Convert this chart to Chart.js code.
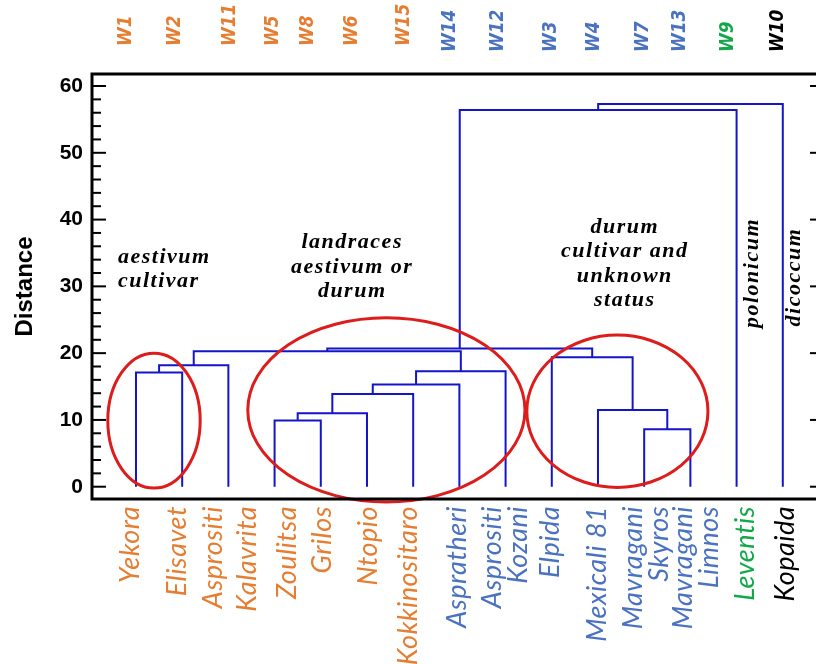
<!DOCTYPE html>
<html>
<head>
<meta charset="utf-8">
<script src="https://cdn.jsdelivr.net/npm/chart.js@4/dist/chart.umd.min.js"></script>
<style>
  html, body { margin: 0; padding: 0; background: #fff; overflow: hidden; }
  #wrap { width: 816px; height: 664px; }
</style>
</head>
<body>
<div id="wrap"><canvas id="dendro" width="816" height="664"></canvas></div>
<script>
// Accession codes of the leaves, left to right
const leafCodes = ['W1', 'W2', 'W11', 'W5', 'W8', 'W6', 'W15', 'W14', 'W12', 'W3', 'W4', 'W7', 'W13', 'W9', 'W10'];
const leafGroup = [0, 0, 0, 0, 0, 0, 0, 1, 1, 1, 1, 1, 1, 2, 3];

// Agglomeration steps: nodes 0-14 are leaves, step k creates node 15 + k
const mergeA    = [0, 15, 3, 17, 18, 19, 20, 16, 11, 10, 9, 22, 26, 27];
const mergeB    = [1, 2, 4, 5, 6, 7, 8, 21, 12, 23, 24, 25, 13, 14];
const mergeDist = [17.1, 18.2, 9.9, 11.0, 13.9, 15.3, 17.3, 20.3, 8.6, 11.5, 19.4, 20.7, 56.4, 57.3];

// Variety names printed under the tree
const varietyNames = ['Yekora', 'Elisavet', 'Asprositi', 'Kalavrita', 'Zoulitsa', 'Grilos', 'Ntopio',
  'Kokkinositaro', 'Aspratheri', ['Asprositi', 'Kozani'], 'Elpida', 'Mexicali 81',
  ['Mavragani', 'Skyros'], ['Mavragani', 'Limnos'], 'Leventis', 'Kopaida'];
const varietyGroup = [0, 0, 0, 0, 0, 0, 0, 0, 1, 1, 1, 1, 1, 1, 2, 3];

// Axis ticks
const distanceTicks = [0, 10, 20, 30, 40, 50, 60];

// Group captions
const captionLines = [['aestivum', 'cultivar'], ['landraces', 'aestivum or', 'durum'], ['durum', 'cultivar and', 'unknown', 'status']];
const sideCaptions = ['polonicum', 'dicoccum'];

// ---- layout & style (axis units along x, distance units along y) ----
const groupColors = ['#e57d32', '#4a72c0', '#12a84a', '#000000'];
const treeColor = '#1414c8';
const codePos = [-0.22, 0.84, 2.03, 2.96, 3.72, 4.67, 5.80, 6.80, 7.84, 8.98, 9.90, 10.98, 11.77, 12.80, 13.90];
const varietyPos = [-0.13, 0.89, 1.67, 2.40, 3.27, 4.03, 5.02, 5.89, 6.95, 8.0, 8.96, 9.98, 11.04, 12.12, 13.18, 14.05];
const captionAnchor = [{x: -0.39, y: 33.5, align: 'left'}, {x: 4.68, y: 35.7, align: 'center'}, {x: 10.58, y: 38.0, align: 'center'}];
const sideAnchor = [{x: 13.33, y: 32.0}, {x: 14.26, y: 31.4}];
const rings = [{x: 0.39, y: 9.9, rx: 1.0, ry: 10.1}, {x: 5.42, y: 11.5, rx: 3.0, ry: 13.8}, {x: 10.42, y: 11.3, rx: 1.96, ry: 11.4}];

// Node positions: leaves sit at their index, merged nodes at the mean of their children
const nodeX = leafCodes.map((_, i) => i);
const nodeH = leafCodes.map(() => 0);
const linkSets = mergeDist.map((h, k) => {
  const a = mergeA[k], b = mergeB[k];
  const xa = nodeX[a], xb = nodeX[b];
  const data = [{x: xa, y: nodeH[a]}, {x: xa, y: h}, {x: xb, y: h}, {x: xb, y: nodeH[b]}];
  nodeX.push((xa + xb) / 2);
  nodeH.push(h);
  return {
    data, showLine: true, borderColor: treeColor, borderWidth: 2,
    pointRadius: 0, tension: 0, fill: false
  };
});

const decorations = {
  id: 'decorations',
  afterDatasetsDraw(chart) {
    const {ctx, scales: {x, y}} = chart;
    ctx.save();
    // red rings around the clusters
    ctx.strokeStyle = '#dd1c1c';
    ctx.lineWidth = 3;
    rings.forEach(r => {
      const cx = x.getPixelForValue(r.x), cy = y.getPixelForValue(r.y);
      const rx = x.getPixelForValue(r.x + r.rx) - cx, ry = cy - y.getPixelForValue(r.y + r.ry);
      ctx.beginPath();
      ctx.ellipse(cx, cy, rx, ry, 0, 0, Math.PI * 2);
      ctx.stroke();
    });
    // captions
    ctx.fillStyle = '#000';
    ctx.font = 'bold italic 22px "Liberation Serif"';
    ctx.letterSpacing = '1.5px';
    ctx.textBaseline = 'alphabetic';
    captionLines.forEach((lines, i) => {
      const p = captionAnchor[i];
      ctx.textAlign = p.align;
      const px = x.getPixelForValue(p.x), py = y.getPixelForValue(p.y);
      lines.forEach((t, j) => ctx.fillText(t, px, py + j * 24.5));
    });
    ctx.textAlign = 'center';
    ctx.textBaseline = 'middle';
    sideCaptions.forEach((t, i) => {
      const p = sideAnchor[i];
      ctx.save();
      ctx.translate(x.getPixelForValue(p.x), y.getPixelForValue(p.y));
      ctx.rotate(-Math.PI / 2);
      ctx.fillText(t, 0, 0);
      ctx.restore();
    });
    ctx.restore();
  },
  afterDraw(chart) {
    const {ctx, chartArea: a, scales: {x, y}} = chart;
    ctx.save();
    // frame
    ctx.strokeStyle = '#000';
    ctx.lineWidth = 3;
    ctx.strokeRect(a.left, a.top, a.right - a.left + 10, a.bottom - a.top);
    // inward ticks, minor every 2 units
    ctx.lineWidth = 2;
    for (let v = distanceTicks[0]; v <= distanceTicks[distanceTicks.length - 1]; v += 2) {
      const py = y.getPixelForValue(v);
      const major = v % 10 === 0;
      ctx.beginPath();
      ctx.moveTo(a.left, py);
      ctx.lineTo(a.left + (major ? 14 : 9), py);
      ctx.stroke();
      if (major) {
        ctx.beginPath();
        ctx.moveTo(a.right, py);
        ctx.lineTo(a.right - 6, py);
        ctx.stroke();
      }
    }
    // accession codes above the frame
    ctx.font = 'bold italic 20px "DejaVu Sans"';
    ctx.textAlign = 'left';
    ctx.textBaseline = 'middle';
    leafCodes.forEach((t, i) => {
      ctx.save();
      ctx.fillStyle = groupColors[leafGroup[i]];
      ctx.translate(x.getPixelForValue(codePos[i]), leafGroup[i] === 0 ? 46 : 52);
      ctx.rotate(-Math.PI / 2);
      ctx.scale(0.85, 1);
      ctx.fillText(t, 0, 0);
      ctx.restore();
    });
    // variety names below the frame
    ctx.font = 'italic 27px Lato';
    ctx.letterSpacing = '0.5px';
    ctx.textAlign = 'right';
    varietyNames.forEach((t, i) => {
      const lines = Array.isArray(t) ? t : [t];
      const cx = x.getPixelForValue(varietyPos[i]);
      ctx.fillStyle = groupColors[varietyGroup[i]];
      lines.forEach((line, j) => {
        ctx.save();
        ctx.translate(cx + (j - (lines.length - 1) / 2) * 26, 506);
        ctx.rotate(-Math.PI / 2);
        ctx.fillText(line, 0, 0);
        ctx.restore();
      });
    });
    ctx.restore();
  }
};

new Chart(document.getElementById('dendro'), {
  type: 'scatter',
  data: {datasets: linkSets},
  options: {
    responsive: false,
    animation: false,
    events: [],
    layout: {padding: {top: 74, bottom: 165, left: 0, right: 0}},
    plugins: {legend: {display: false}, tooltip: {enabled: false}},
    scales: {
      x: {type: 'linear', display: false, min: -0.952, max: 14.719},
      y: {
        type: 'linear', min: -1.84, max: 61.8,
        afterBuildTicks(axis) { axis.ticks = distanceTicks.map(v => ({value: v})); },
        afterFit(axis) { axis.width = 92; },
        grid: {display: false, drawTicks: false},
        border: {display: false},
        ticks: {color: '#000', padding: 9, font: {family: '"Liberation Sans"', size: 21, weight: 'bold'}},
        title: {display: true, text: 'Distance', color: '#000', padding: {top: 11, bottom: 0},
                font: {family: '"Liberation Sans"', size: 24, weight: 'bold'}}
      }
    }
  },
  plugins: [decorations]
});
</script>
</body>
</html>
